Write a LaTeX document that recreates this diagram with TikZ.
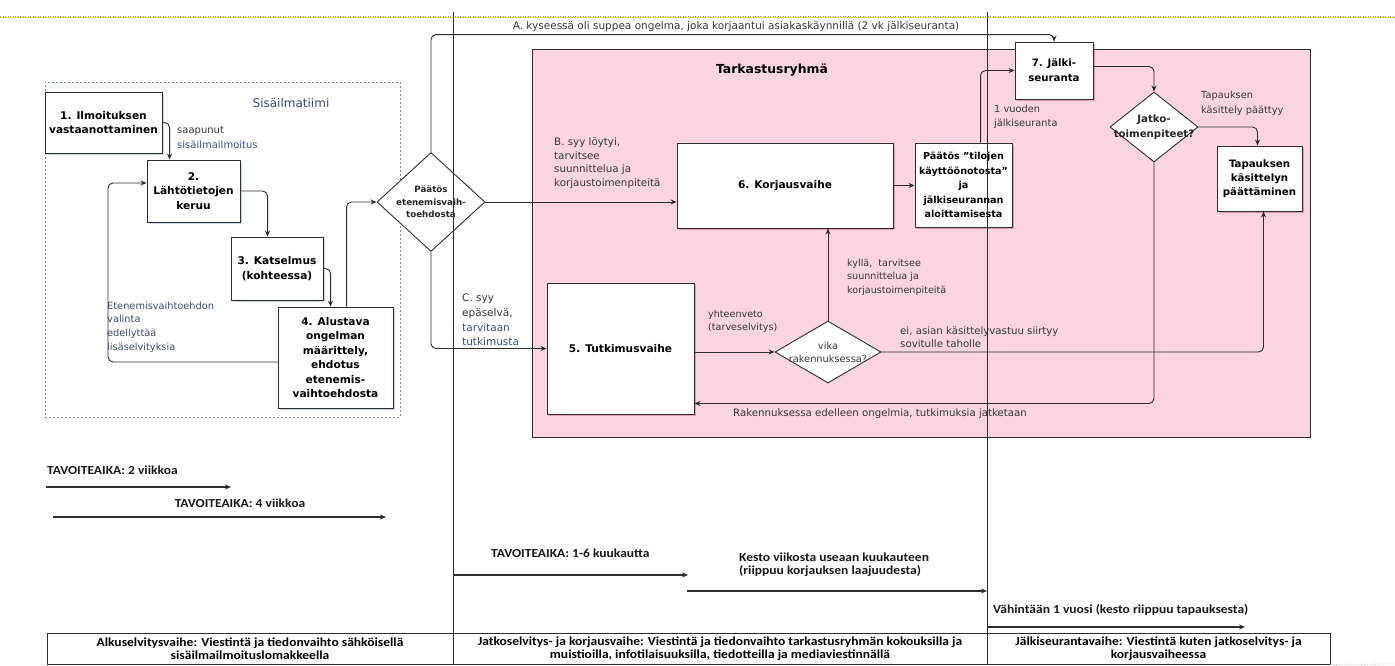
\documentclass[tikz,border=0pt]{standalone}
\usepackage{fontspec}
\setmainfont{DejaVu Sans}
\newfontfamily\calfont{Carlito}[FakeStretch=1.1]
\usetikzlibrary{arrows.meta,shapes.geometric,calc,shadows}
\definecolor{pinkfill}{RGB}{250,213,225}
\definecolor{linec}{RGB}{45,45,45}
\definecolor{textc}{RGB}{55,55,60}
\definecolor{bluetxt}{RGB}{55,80,130}
\definecolor{teamblue}{RGB}{95,145,205}
\definecolor{teamc}{RGB}{55,75,120}
\definecolor{dotc}{RGB}{150,150,110}
\newcommand{\bxf}{\fontsize{10.6}{14.5}\selectfont\bfseries}
\newcommand{\lbf}{\fontsize{10.2}{13.6}\selectfont}
\newcommand{\btf}{\calfont\bfseries\fontsize{12.3}{13}\selectfont}
\begin{document}
\begin{tikzpicture}[x=1pt,y=-1pt,
 conn/.style={draw=linec, line width=0.9pt, rounded corners=5pt, -{Stealth[length=6pt,width=5pt]}},
 box/.style={draw=linec, fill=white, line width=0.9pt, inner sep=1pt, align=center, font=\bxf},
 lbox/.style={box, drop shadow={shadow xshift=2pt, shadow yshift=-2pt, fill=teamblue, opacity=0.35}},
 pbox/.style={box, drop shadow={shadow xshift=2pt, shadow yshift=-2pt, fill=black!50!red, opacity=0.25}},
 dia/.style={diamond, draw=linec, fill=white, line width=0.9pt, inner sep=0pt},
 lab/.style={inner sep=0pt, align=left, anchor=west, font=\lbf, text=textc},
 phase/.style={draw=linec, line width=0.9pt},
 tl/.style={draw=linec, line width=1.1pt, -{Stealth[length=6pt,width=5pt]}},
 bt/.style={inner sep=0pt, font=\btf, text=black!90},
 bottombox/.style={draw=linec, line width=0.8pt, align=center, font=\btf, inner sep=0pt},
]
\useasboundingbox (0,0) rectangle (1395,665);
\fill[white] (0,0) rectangle (1395,665);

% top dotted line
\draw[yellow!70!dotc, line width=0.5pt] (0,17.5) -- (1395,17.5);
\draw[dotc, line width=1pt, dash pattern=on 1pt off 1.5pt] (0,16.5) -- (1395,16.5);

% containers
\node[draw=teamblue, line width=0.8pt, dash pattern=on 2pt off 2pt, minimum width=355pt, minimum height=335pt, inner sep=0pt] (team) at (222.5,249.5) {};
\node[font=\fontsize{12}{14}\selectfont, text=teamc] (teamlab) at (291,103) {Sisäilmatiimi};
\node[draw=linec, fill=pinkfill, line width=0.8pt, minimum width=778pt, minimum height=388pt, inner sep=0pt] (tark) at (921,243) {};
\node[font=\fontsize{12.4}{14}\selectfont\bfseries] (tarklab) at (772,70) {Tarkastusryhmä};

% boxes
\node[lbox, minimum width=117pt, minimum height=61pt] (b1) at (103.5,122.5) {1. Ilmoituksen\\vastaanottaminen};
\node[lbox, minimum width=93pt, minimum height=62pt] (b2) at (193.5,191) {2.\\Lähtötietojen\\keruu};
\node[lbox, minimum width=92pt, minimum height=63pt] (b3) at (277,268.5) {3. Katselmus\\(kohteessa)};
\node[lbox, minimum width=115pt, minimum height=101pt] (b4) at (335.5,357.5) {4. Alustava\\ongelman\\määrittely,\\ehdotus\\etenemis-\\vaihtoehdosta};
\node[pbox, minimum width=147pt, minimum height=131pt] (b5) at (620.5,348.5) {5. Tutkimusvaihe};
\node[pbox, minimum width=216pt, minimum height=85pt] (b6) at (785,185.5) {6. Korjausvaihe};
\node[pbox, minimum width=97pt, minimum height=84pt, font=\fontsize{9.6}{14.4}\selectfont\bfseries] (bP) at (963.5,185) {Päätös "tilojen\\käyttöönotosta"\\ja\\jälkiseurannan\\aloittamisesta};
\node[pbox, minimum width=78pt, minimum height=57pt, font=\fontsize{10.2}{15}\selectfont\bfseries] (b7) at (1054,70.5) {7. Jälki-\\seuranta};
\node[pbox, minimum width=85pt, minimum height=65pt, font=\fontsize{10.2}{14}\selectfont\bfseries] (bT) at (1259.5,178.5) {Tapauksen\\käsittelyn\\päättäminen};

% diamonds
\node[dia, minimum width=108pt, minimum height=99pt, label={[font=\fontsize{8.7}{12.5}\selectfont\bfseries, align=center, text=black!85]center:{Päätös\\etenemisvaih-\\toehdosta}}] (d1) at (431,202) {};
\node[dia, minimum width=106pt, minimum height=62pt, label={[font=\fontsize{9.8}{13}\selectfont, align=center, text=textc]center:{vika\\rakennuksessa?}}] (d2) at (828,352) {};
\node[dia, minimum width=88pt, minimum height=70pt, label={[font=\fontsize{10.2}{15}\selectfont\bfseries, align=center, text=black!85]center:{Jatko-\\toimenpiteet?}}] (d3) at (1154,127) {};

% connectors
\draw[conn] (b1.east) -| ($(b2.north west)+(23,0)$);
\draw[conn] (b2.east) -| ($(b3.north west)+(37,0)$);
\draw[conn] (b3.east) -| ($(b4.north west)+(53,0)$);
\coordinate (loopc) at (108,183);
\draw[conn] ($(b4.west)+(0,4.5)$) -| (loopc) -- ($(b2.west)+(0,-8)$);
\draw[conn] ($(b4.north west)+(69,0)$) |- (d1.west);
\draw[conn] (d1.north) |- ($(b7.north)+(0,-7)$) -- (b7.north);
\draw[conn] (d1.east) -- (d1.east -| b6.west);
\draw[conn] (d1.south) |- (b5.west);
\draw[conn] (d2.west -| b5.east) -- (d2.west);
\draw[conn] (d2.north) -- (d2.north |- b6.south);
\draw[conn] (d2.east) -| ($(bT.south)+(4,0)$);
\draw[conn] (b6.east) -- (b6.east -| bP.west);
\draw[conn] ($(bP.north west)+(66,0)$) |- (b7.west);
\draw[conn] ($(b7.east)+(0,-4)$) -| (d3.north);
\draw[conn] (d3.east) -| ($(bT.north)+(-2,0)$);
\draw[conn] (d3.south) |- ($(b5.south east)+(0,-11)$);

% labels
\node[lab, font=\fontsize{10}{14.5}\selectfont] (lsaap) at (177,137.5) {saapunut\\\textcolor{bluetxt}{sisäilmailmoitus}};
\node[lab, font=\fontsize{9.8}{13.7}\selectfont, text=bluetxt!80!textc] (lenem) at (107,327) {Etenemisvaihtoehdon\\ valinta\\edellyttää\\lisäselvityksia};
\node[lab, anchor=center, font=\fontsize{10.5}{13}\selectfont] (lA) at (736,27) {A. kyseessä oli suppea ongelma, joka korjaantui asiakaskäynnillä (2 vk jälkiseuranta)};
\node[lab, font=\fontsize{10.3}{13.5}\selectfont] (lB) at (554,163) {B. syy löytyi,\\tarvitsee\\suunnittelua ja\\korjaustoimenpiteitä};
\node[lab, font=\fontsize{10.5}{14.7}\selectfont] (lC) at (462,320) {C. syy\\epäselvä,\\\textcolor{bluetxt}{tarvitaan}\\\textcolor{bluetxt}{tutkimusta}};
\node[lab, font=\fontsize{9.6}{13}\selectfont] (lyht) at (708,321.5) {yhteenveto\\(tarveselvitys)};
\node[lab, font=\fontsize{9.6}{13.5}\selectfont] (lkyl) at (847,277) {kyllä,\ \ tarvitsee\\suunnittelua ja\\korjaustoimenpiteitä};
\node[lab] (lei) at (900,337) {ei, asian käsittelyvastuu siirtyy\\sovitulle taholle};
\node[lab] (lrak) at (733,414) {Rakennuksessa edelleen ongelmia, tutkimuksia jatketaan};
\node[lab, font=\fontsize{9.8}{14.5}\selectfont] (lvuo) at (994,117) {1 vuoden\\jälkiseuranta};
\node[lab, font=\fontsize{9.8}{14.5}\selectfont] (ltap) at (1201,103.5) {Tapauksen\\käsittely päättyy};

% timeline
\node[bt, anchor=west] (t2) at (47,470) {TAVOITEAIKA: 2 viikkoa};
\coordinate (t2s) at (46,487); \coordinate (t2e) at (231,487);
\draw[tl] (t2s) -- (t2e);
\node[bt] (t4) at (240,503) {TAVOITEAIKA: 4 viikkoa};
\coordinate (t4s) at (53,517); \coordinate (t4e) at (386,517);
\draw[tl] (t4s) -- (t4e);
\node[bt, anchor=west] (t16) at (491,553) {TAVOITEAIKA: 1-6 kuukautta};
\coordinate (t16s) at (453,575); \coordinate (t16e) at (688,575);
\draw[tl] (t16s) -- (t16e);
\node[bt, anchor=west, align=left] (tkes) at (739,565) {Kesto viikosta useaan kuukauteen\\(riippuu korjauksen laajuudesta)};
\coordinate (tks) at (687,591); \coordinate (tke) at (987,591);
\draw[tl] (tks) -- (tke);
\node[bt, anchor=west] (tvah) at (993,610) {Vähintään 1 vuosi (kesto riippuu tapauksesta)};
\coordinate (tvs) at (987,627); \coordinate (tve) at (1245,627);
\draw[tl] (tvs) -- (tve);

% bottom boxes
\node[bottombox, minimum width=406pt, minimum height=31pt] (p1) at (250,648.5) {Alkuselvitysvaihe: Viestintä ja tiedonvaihto sähköisellä\\sisäilmailmoituslomakkeella};
\node[bottombox, minimum width=534pt, minimum height=31pt] (p2) at (720,648.5) {Jatkoselvitys- ja korjausvaihe: Viestintä ja tiedonvaihto tarkastusryhmän kokouksilla ja\\muistioilla, infotilaisuuksilla, tiedotteilla ja mediaviestinnällä};
\node[bottombox, minimum width=343pt, minimum height=31pt] (p3) at (1158.5,648.5) {Jälkiseurantavaihe: Viestintä kuten jatkoselvitys- ja\\korjausvaiheessa};
\coordinate (dotend) at (1395,664);
\draw[black!30, dotted, line width=0.8pt] (p3.south east) -- (dotend);

% phase separators
\coordinate (s1t) at (453,12); \coordinate (s1b) at (453,665);
\coordinate (s2t) at (987,12); \coordinate (s2b) at (987,665);
\draw[phase] (s1t) -- (s1b);
\draw[phase] (s2t) -- (s2b);
\end{tikzpicture}
\end{document}
